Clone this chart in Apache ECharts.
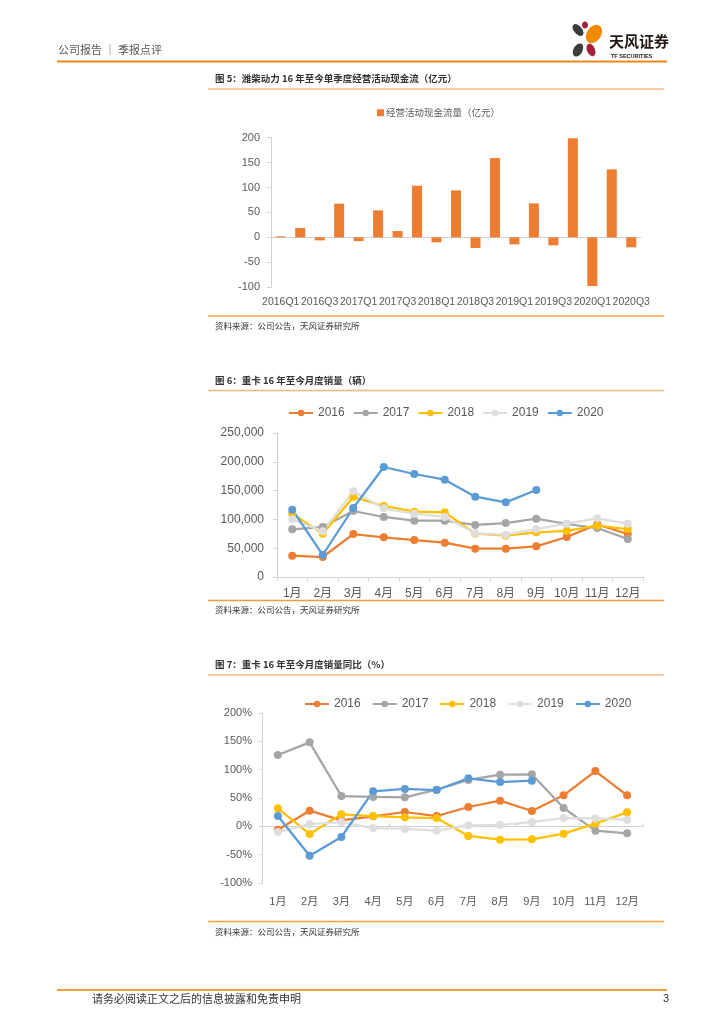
<!DOCTYPE html>
<html>
<head>
<meta charset="utf-8">
<script src="https://cdn.jsdelivr.net/npm/echarts@6/dist/echarts.min.js"></script>
<style>
html,body{margin:0;padding:0;background:#fff;}
#page{width:724px;height:1024px;}
</style>
</head>
<body>
<div id="page"></div>
<script>
// ---------- data ----------
const quarters = ['2016Q1','2016Q2','2016Q3','2016Q4','2017Q1','2017Q2','2017Q3','2017Q4',
  '2018Q1','2018Q2','2018Q3','2018Q4','2019Q1','2019Q2','2019Q3','2019Q4','2020Q1','2020Q2','2020Q3'];
const cashFlow = [2, 18.7, -6, 67.6, -7.4, 54.2, 12.7, 103.7, -10, 94.3, -21.4, 159.2, -14, 68.2, -16, 199, -97.7, 136.5, -20];
const cashName = '经营活动现金流量（亿元）';

const months = ['1月','2月','3月','4月','5月','6月','7月','8月','9月','10月','11月','12月'];
const years = ['2016','2017','2018','2019','2020'];
const sales2016 = [37000, 34700, 74600, 68900, 64200, 59600, 49200, 49200, 53200, 69400, 91400, 74600];
const sales2017 = [82800, 86800, 114600, 104200, 97800, 97800, 90300, 93700, 101300, 92000, 85000, 66000];
const sales2018 = [110000, 75200, 138900, 123300, 113400, 112300, 75200, 71800, 77500, 79900, 89100, 83300];
const sales2019 = [100100, 79300, 148700, 119200, 110000, 104200, 75800, 73500, 83300, 92600, 101900, 92600];
const sales2020 = [116900, 38200, 119800, 191000, 178800, 169000, 139500, 129600, 151000];

const yoy2016 = [-6, 27.6, 10.6, 17.6, 25.3, 18.2, 34.1, 45.3, 27, 54.7, 97.6, 54.7];
const yoy2017 = [125.9, 148.2, 53.5, 51.8, 51.2, 64.7, 81.8, 91.2, 91.8, 32.4, -7.6, -12.4];
const yoy2018 = [31.8, -13.5, 21.2, 18.2, 15.9, 14.7, -17, -23.5, -22.9, -12.9, 4.7, 24.7];
const yoy2019 = [-10, 4, 7.6, -3, -4.7, -7.6, 1.8, 2.4, 7.6, 14.7, 14, 11.8];
const yoy2020 = [18.2, -51.8, -18.8, 61.8, 65.9, 64.1, 84.7, 78.2, 80.6];

const salesData = [sales2016, sales2017, sales2018, sales2019, sales2020];
const yoyData = [yoy2016, yoy2017, yoy2018, yoy2019, yoy2020];
const yearColors = ['#ED7D31', '#A5A5A5', '#FFC000', '#DEDEDE', '#5B9BD5'];

// ---------- styles ----------
const FF = '"Liberation Sans","Noto Sans CJK SC",sans-serif';
const CJK = '"Noto Sans CJK SC",sans-serif';
const LBL = '#595959';
const AX = '#D0D0D0';

const chart = echarts.init(document.getElementById('page'), null, {renderer: 'canvas'});

function text(t, x, y, size, color, opts) {
  opts = opts || {};
  return {type: 'text', z: 100, style: Object.assign({
    text: t, x: x, y: y, fill: color,
    font: (opts.bold ? 'bold ' : '') + size + 'px ' + (opts.family || CJK),
    textVerticalAlign: 'middle', textAlign: opts.align || 'left'
  })};
}
function hline(x1, x2, y, color, w) {
  return {type: 'line', z: 100, shape: {x1: x1, y1: y, x2: x2, y2: y}, style: {stroke: color, lineWidth: w}};
}
function petal(cx, cy, rx, ry, rot, color) {
  return {type: 'ellipse', z: 100, x: cx, y: cy, rotation: rot, shape: {cx: 0, cy: 0, rx: rx, ry: ry}, style: {fill: color}};
}

const graphics = [
  // header
  text('公司报告 ｜ 季报点评', 58, 50, 11, '#595959'),
  hline(57, 667, 61.5, '#F0861E', 2),
  // logo
  petal(578, 30, 4, 7, 0.7, '#3C3C3C'),
  petal(585, 25, 3, 3.5, 0, '#A4203A'),
  petal(594, 34, 7, 10, -0.6, '#F08A00'),
  petal(578, 50, 4.5, 7, -0.5, '#3C3C3C'),
  petal(591, 50, 4, 6.5, 0.4, '#A4203A'),
  text('天风证券', 609, 41, 15, '#231815', {bold: true}),
  text('TF SECURITIES', 611, 56, 5.5, '#231815', {bold: true, family: FF}),
  // figure 5
  text('图 5：潍柴动力 16 年至今单季度经营活动现金流（亿元）', 215, 78, 9.5, '#333', {bold: true}),
  hline(208, 664, 89, '#F7B77A', 1.5),
  hline(208, 664, 316, '#F39A45', 1.5),
  text('资料来源：公司公告，天风证券研究所', 215, 326, 8.5, '#333'),
  // figure 6
  text('图 6：重卡 16 年至今月度销量（辆）', 215, 380, 9.5, '#333', {bold: true}),
  hline(208, 664, 390.5, '#F7B77A', 1.5),
  hline(208, 664, 600.5, '#F39A45', 1.5),
  text('资料来源：公司公告，天风证券研究所', 215, 610, 8.5, '#333'),
  // figure 7
  text('图 7：重卡 16 年至今月度销量同比（%）', 215, 664, 9.5, '#333', {bold: true}),
  hline(208, 664, 675, '#F7B77A', 1.5),
  hline(208, 664, 921.5, '#F39A45', 1.5),
  text('资料来源：公司公告，天风证券研究所', 215, 932, 8.5, '#333'),
  // footer
  hline(57, 667, 990, '#E9A23B', 2),
  text('请务必阅读正文之后的信息披露和免责申明', 92, 999, 11, '#333'),
  text('3', 663, 999, 11, '#333', {family: FF})
];

const grids = [
  {left: 271, right: 83, top: 137.7, height: 149.5},
  {left: 277, right: 81, top: 433, height: 144},
  {left: 262, right: 81, top: 713, height: 170}
];

function lineSeries(name, data, color, xi, yi) {
  return {
    name: name, type: 'line', data: data, xAxisIndex: xi, yAxisIndex: yi,
    symbol: 'circle', symbolSize: 8, smooth: false,
    lineStyle: {color: color, width: 2.25},
    itemStyle: {color: color}
  };
}

const series = [
  {name: cashName, type: 'bar', data: cashFlow, xAxisIndex: 0, yAxisIndex: 0,
   barWidth: 10, itemStyle: {color: '#ED7D31'}}
];
years.forEach((y, i) => series.push(lineSeries(y, salesData[i], yearColors[i], 2, 1)));
years.forEach((y, i) => series.push(lineSeries(y, yoyData[i], yearColors[i], 3, 2)));

const option = {
  animation: false,
  backgroundColor: '#fff',
  textStyle: {fontFamily: FF},
  graphic: graphics,
  grid: grids,
  legend: [
    {data: [cashName], left: 372, top: 103, icon: 'rect', itemWidth: 7, itemHeight: 7, itemGap: 10,
     textStyle: {fontSize: 9.5, color: LBL, fontFamily: CJK, padding: [0, 0, 0, -3]}},
    {data: years, left: 283, top: 402, itemWidth: 24, itemHeight: 8, itemGap: 8,
     textStyle: {fontSize: 12, color: LBL, fontFamily: FF}},
    {data: years, left: 299, top: 693, itemWidth: 24, itemHeight: 8, itemGap: 11,
     textStyle: {fontSize: 12, color: LBL, fontFamily: FF}}
  ],
  xAxis: [
    {type: 'category', gridIndex: 0, data: quarters, position: 'bottom',
     axisLine: {show: false, onZero: false}, axisTick: {show: false},
     axisLabel: {interval: 1, fontSize: 10.5, color: LBL, margin: 10}},
    {type: 'category', gridIndex: 0, data: quarters,
     axisLine: {onZero: true, lineStyle: {color: AX}}, axisTick: {show: false},
     axisLabel: {show: false}},
    {type: 'category', gridIndex: 1, data: months,
     axisLine: {lineStyle: {color: AX}}, axisTick: {show: true, length: 4, lineStyle: {color: AX}},
     axisLabel: {interval: 0, fontSize: 12, color: LBL, margin: 11, fontFamily: FF}},
    {type: 'category', gridIndex: 2, data: months, position: 'bottom',
     axisLine: {show: false, onZero: false}, axisTick: {show: false},
     axisLabel: {interval: 0, fontSize: 11, color: LBL, margin: 13, fontFamily: FF}},
    {type: 'category', gridIndex: 2, data: months,
     axisLine: {onZero: true, lineStyle: {color: AX}}, axisTick: {show: true, length: 3, lineStyle: {color: AX}},
     axisLabel: {show: false}}
  ],
  yAxis: [
    {type: 'value', gridIndex: 0, min: -100, max: 200, interval: 50,
     axisLine: {show: true, lineStyle: {color: AX}}, axisTick: {show: true, length: 4, lineStyle: {color: AX}},
     splitLine: {show: false}, axisLabel: {fontSize: 11, color: LBL, margin: 11}},
    {type: 'value', gridIndex: 1, min: 0, max: 250000, interval: 50000,
     axisLine: {show: true, lineStyle: {color: AX}}, axisTick: {show: true, length: 4, lineStyle: {color: AX}},
     splitLine: {show: false},
     axisLabel: {fontSize: 12, color: LBL, margin: 13, formatter: v => v.toLocaleString('en-US')}},
    {type: 'value', gridIndex: 2, min: -100, max: 200, interval: 50,
     axisLine: {show: true, lineStyle: {color: AX}}, axisTick: {show: true, length: 3, lineStyle: {color: AX}},
     splitLine: {show: false}, axisLabel: {fontSize: 11, color: LBL, margin: 10, formatter: '{value}%'}}
  ],
  series: series
};
chart.setOption(option);
</script>
</body>
</html>
